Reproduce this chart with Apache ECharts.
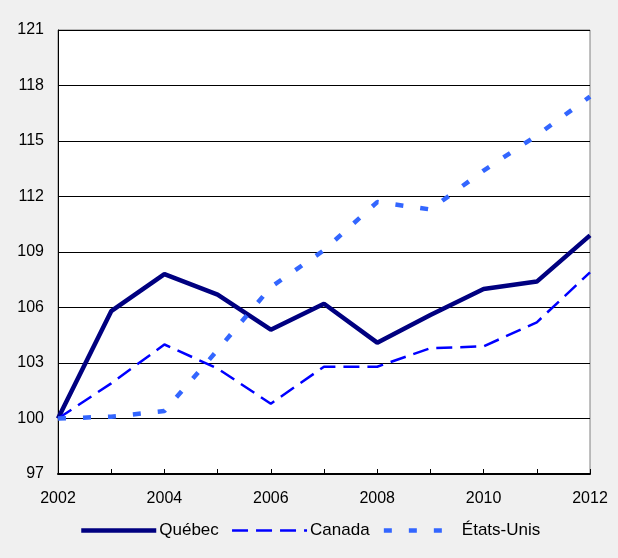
<!DOCTYPE html>
<html><head><meta charset="utf-8">
<script src="https://cdn.jsdelivr.net/npm/echarts@6/dist/echarts.min.js"></script>
<style>html,body{margin:0;padding:0;background:#f0f0f0}#c{width:618px;height:558px}</style>
</head><body><div id="c"></div>
<script>
const years = ['2002','2003','2004','2005','2006','2007','2008','2009','2010','2011','2012'];
const quebec = [100, 105.8, 107.8, 106.7, 104.8, 106.2, 104.1, 105.6, 107.0, 107.4, 109.9];
const canada = [100, 101.9, 104.0, 102.7, 100.8, 102.8, 102.8, 103.8, 103.9, 105.2, 107.9];
const etatsUnis = [100, 100.1, 100.4, 103.7, 107.1, 109.1, 111.7, 111.3, 113.4, 115.3, 117.4];
const yTicks = [97, 100, 103, 106, 109, 112, 115, 118, 121];

const font = 'Liberation Sans, Arial, sans-serif';
const qStyle = {color: '#000080', width: 4.5};
const cStyle = {color: '#0000ff', width: 2.5, type: [16, 8]};
const uStyle = {color: '#3366ff', width: 4.5, type: [8, 17]};
const chart = echarts.init(document.getElementById('c'));
chart.setOption({
  backgroundColor: '#f0f0f0',
  animation: false,
  grid: {left: 58, right: 28, top: 30, bottom: 84, show: true, backgroundColor: '#ffffff', borderColor: '#808080', borderWidth: 1},
  legend: {
    bottom: 14, left: 74, itemWidth: 75, itemHeight: 14, itemGap: 12,
    itemStyle: {opacity: 0},
    textStyle: {fontFamily: font, fontSize: 17, color: '#000', padding: [0,0,0,-2]},
    data: [
      {name: 'Québec', lineStyle: qStyle},
      {name: 'Canada', lineStyle: cStyle},
      {name: 'États-Unis', lineStyle: uStyle}
    ]
  },
  xAxis: {
    type: 'category', data: years, boundaryGap: false,
    axisLine: {lineStyle: {color: '#000', width: 2}},
    axisTick: {inside: true, length: 5, interval: 0, lineStyle: {color: '#000'}},
    axisLabel: {interval: 1, margin: 17, fontFamily: font, fontSize: 16, color: '#000'},
    splitLine: {show: false}
  },
  yAxis: {
    type: 'value', min: yTicks[0], max: yTicks[yTicks.length-1], interval: 3,
    axisLine: {show: true, lineStyle: {color: '#000', width: 1}},
    axisTick: {show: false},
    axisLabel: {margin: 14, fontFamily: font, fontSize: 16, color: '#000'},
    splitLine: {show: true, lineStyle: {color: '#000', width: 1}}
  },
  series: [
    {name: 'Québec', type: 'line', data: quebec, symbol: 'none', color: '#000080', lineStyle: qStyle},
    {name: 'Canada', type: 'line', data: canada, symbol: 'none', color: '#0000ff', lineStyle: cStyle},
    {name: 'États-Unis', type: 'line', data: etatsUnis, symbol: 'none', color: '#3366ff', lineStyle: uStyle}
  ]
});
</script></body></html>
